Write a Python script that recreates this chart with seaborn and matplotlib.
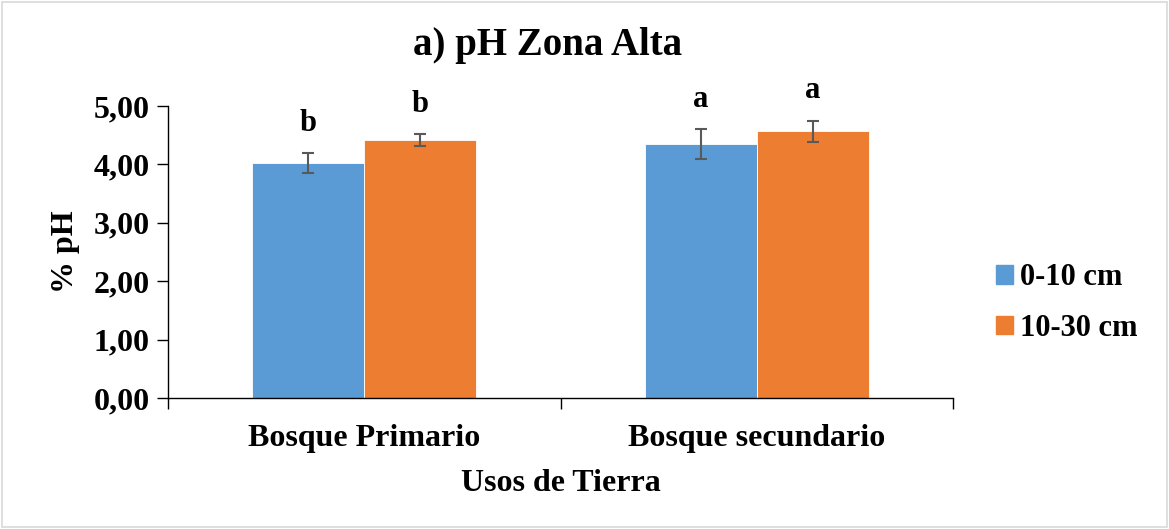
import matplotlib
matplotlib.use("Agg")
import matplotlib.pyplot as plt
import matplotlib.patches as mpatches
import seaborn as sns
import pandas as pd

# data
usos = ["Bosque Primario", "Bosque secundario"]
profundidades = ["0-10 cm", "10-30 cm"]
ph_0_10 = [4.02, 4.35]
ph_10_30 = [4.42, 4.57]
err_0_10 = [0.17, 0.25]
err_10_30 = [0.10, 0.18]
letras_0_10 = ["b", "a"]
letras_10_30 = ["b", "a"]

df = pd.DataFrame({
    "uso": usos * 2,
    "prof": [profundidades[0]] * 2 + [profundidades[1]] * 2,
    "ph": ph_0_10 + ph_10_30,
})
errs = [err_0_10, err_10_30]
letras = [letras_0_10, letras_10_30]

sns.set_style("white")
plt.rcParams["font.family"] = ["Liberation Serif", "DejaVu Serif"]
plt.rcParams["font.weight"] = "bold"
for k in ["text.color", "axes.labelcolor", "xtick.color", "ytick.color"]:
    plt.rcParams[k] = "black"

fig = plt.figure(figsize=(11.69, 5.29), dpi=100)
ax = fig.add_axes([168 / 1169, 1 - 398 / 529, (953 - 168) / 1169, (398 - 106) / 529])

colors = ["#5B9BD5", "#ED7D31"]
sns.barplot(data=df, x="uso", y="ph", hue="prof", order=usos, hue_order=profundidades,
            palette=colors, width=0.57, errorbar=None, saturation=1, ax=ax,
            edgecolor="white", linewidth=0.6)

bar_conts = list(ax.containers)
for i, cont in enumerate(bar_conts):
    for j, bar in enumerate(cont.patches):
        cx = bar.get_x() + bar.get_width() / 2
        h = bar.get_height()
        ax.errorbar(cx, h, yerr=errs[i][j], color="#595959", capsize=4.5, elinewidth=1.5,
                    capthick=1.5, fmt="none")
        ax.text(cx, h + errs[i][j] + 0.38, letras[i][j], ha="center", va="baseline",
                fontsize=22, fontweight="bold")

ax.set_ylim(0, 5)
ax.set_xlim(-0.5, 1.5)
ax.set_yticks([0, 1, 2, 3, 4, 5])
ax.set_yticklabels([f"{v:.2f}".replace(".", ",") for v in range(6)], fontsize=23, fontweight="bold")
ax.set_xticks([0, 1])
ax.set_xticklabels(usos, fontsize=23, fontweight="bold")
ax.set_xticks([-0.5, 0.5, 1.5], minor=True)
ax.tick_params(axis="x", which="major", length=0, pad=19)
ax.tick_params(axis="x", which="minor", length=8, width=1, color="black", direction="out", bottom=True)
ax.tick_params(axis="y", length=8, width=1, color="black", direction="out", left=True, pad=5)

for s in ["top", "right"]:
    ax.spines[s].set_visible(False)
for s in ["left", "bottom"]:
    ax.spines[s].set_color("black")
    ax.spines[s].set_linewidth(1)

ax.set_xlabel("Usos de Tierra", fontsize=23, fontweight="bold", labelpad=11)
ax.set_ylabel("% pH", fontsize=23, fontweight="bold", labelpad=10)

fig.text(548 / 1169, 1 - 45 / 529, "a) pH Zona Alta", ha="center", va="center",
         fontsize=28, fontweight="bold")

handles = [mpatches.Patch(color=c, label=l) for c, l in zip(colors, profundidades)]
ax.legend(handles=handles, loc="center left", bbox_to_anchor=(996 / 1169, 1 - 303 / 529),
          bbox_transform=fig.transFigure, frameon=False, prop={"size": 22, "weight": "bold"},
          handlelength=0.55, handleheight=0.55, handletextpad=0.25, labelspacing=0.7,
          borderpad=0, borderaxespad=0)

fig.add_artist(mpatches.Rectangle((0.002, 0.003), 0.996, 0.994, transform=fig.transFigure,
                                  fill=False, edgecolor="#D9D9D9", linewidth=1.2))

fig.savefig("out.png", dpi=100)
